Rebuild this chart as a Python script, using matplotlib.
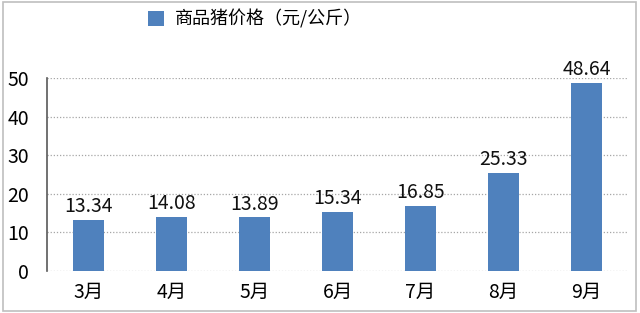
import matplotlib.pyplot as plt
from matplotlib.patches import Rectangle

plt.rcParams['font.family'] = ['Noto Sans CJK SC', 'DejaVu Sans']

months = ['3月', '4月', '5月', '6月', '7月', '8月', '9月']
prices = [13.34, 14.08, 13.89, 15.34, 16.85, 25.33, 48.64]
yticks = [0, 10, 20, 30, 40, 50]
series_name = '商品猪价格（元/公斤）'

fig = plt.figure(figsize=(6.4, 3.13), dpi=100)
ax = fig.add_axes([0.074, 0.134, 0.907, 0.617])

x = range(len(months))
bars = ax.bar(x, prices, width=0.37, color='#4F81BD', label=series_name, zorder=3)

for xi, v in zip(x, prices):
    ax.annotate(f'{v:.2f}', (xi, v), xytext=(0, 2), textcoords='offset points',
                ha='center', va='bottom', fontsize=14, color='#111111')

ax.set_xlim(-0.5, len(months) - 0.5)
ax.set_ylim(0, 50)
ax.set_yticks(yticks)
ax.set_xticks(list(x))
ax.set_xticklabels(months)
ax.tick_params(axis='y', length=0, pad=13, labelsize=14)
ax.tick_params(axis='x', length=0, pad=8, labelsize=14)
ax.grid(axis='y', linestyle=(0, (1, 1.5)), color='#A6A6A6', linewidth=0.9, zorder=0)

for s in ['top', 'right', 'bottom']:
    ax.spines[s].set_visible(False)
ax.spines['left'].set_color('#595959')
ax.spines['left'].set_linewidth(1.2)

fig.legend(handles=[bars], labels=[series_name], loc='center',
           bbox_to_anchor=(255 / 640, 1 - 19 / 313), frameon=False,
           fontsize=13, handlelength=0.85, handleheight=0.85, handletextpad=0.6)

fig.patches.append(Rectangle((0.004, 0.006), 0.99, 0.988, transform=fig.transFigure,
                             fill=False, edgecolor='#BFBFBF', linewidth=1.2))

fig.savefig('out.png', dpi=100)
